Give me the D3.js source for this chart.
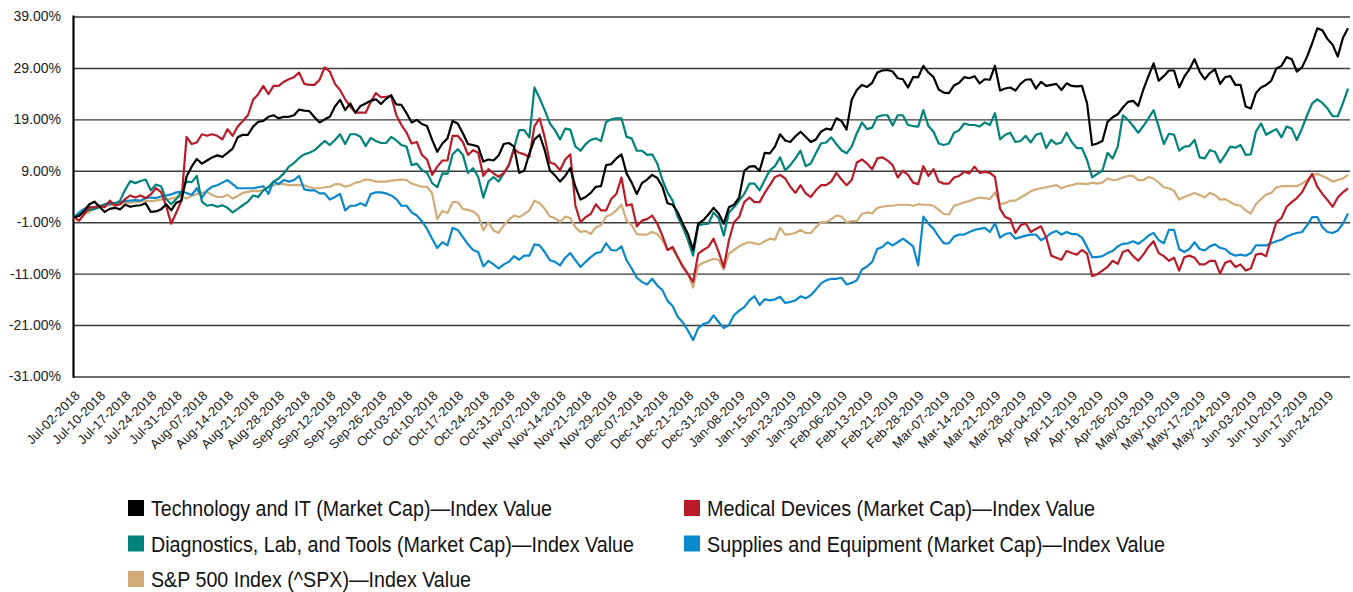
<!DOCTYPE html>
<html><head><meta charset="utf-8">
<script src="https://cdn.jsdelivr.net/npm/d3@7"></script>
<style>body{margin:0;background:#fff}svg{display:block}</style>
</head><body>
<script>
const tickLabels = ["Jul-02-2018","Jul-10-2018","Jul-17-2018","Jul-24-2018","Jul-31-2018","Aug-07-2018","Aug-14-2018","Aug-21-2018","Aug-28-2018","Sep-05-2018","Sep-12-2018","Sep-19-2018","Sep-26-2018","Oct-03-2018","Oct-10-2018","Oct-17-2018","Oct-24-2018","Oct-31-2018","Nov-07-2018","Nov-14-2018","Nov-21-2018","Nov-29-2018","Dec-07-2018","Dec-14-2018","Dec-21-2018","Dec-31-2018","Jan-08-2019","Jan-15-2019","Jan-23-2019","Jan-30-2019","Feb-06-2019","Feb-13-2019","Feb-21-2019","Feb-28-2019","Mar-07-2019","Mar-14-2019","Mar-21-2019","Mar-28-2019","Apr-04-2019","Apr-11-2019","Apr-18-2019","Apr-26-2019","May-03-2019","May-10-2019","May-17-2019","May-24-2019","Jun-03-2019","Jun-10-2019","Jun-17-2019","Jun-24-2019"];

const yTickValues = [-31, -21, -11, -1, 9, 19, 29, 39];

const techValues = [0.0,0.2,1.2,2.5,3.0,2.0,1.0,1.6,1.8,1.5,2.4,2.0,2.2,2.3,2.7,1.0,1.1,1.5,2.5,1.3,
2.8,3.2,7.9,9.8,11.3,10.4,11.0,11.6,12.0,11.7,12.5,13.3,15.5,16.0,16.0,17.6,18.5,18.7,19.5,19.8,
19.2,19.5,19.5,19.8,20.9,20.7,20.6,19.4,18.4,19.0,19.5,21.5,22.8,20.8,22.1,20.3,21.6,22.1,22.6,22.9,
22.0,23.0,23.7,21.9,21.8,20.2,18.4,18.9,18.1,17.7,15.0,12.7,14.3,15.3,18.7,18.2,16.3,14.2,14.0,13.7,
10.8,11.2,11.0,12.0,14.2,14.4,13.7,8.6,9.0,12.4,15.1,16.0,13.0,9.1,8.1,6.9,8.0,9.5,5.9,3.4,
3.9,4.7,5.9,6.0,10.1,10.3,11.4,12.2,8.5,6.7,4.5,6.6,7.3,8.2,7.6,5.9,2.7,2.4,0.9,-1.3,
-3.3,-6.4,-1.3,-0.6,0.5,1.8,0.7,-1.3,1.9,2.4,3.8,9.0,9.8,9.9,9.0,12.5,12.4,13.7,16.1,14.9,
14.6,15.7,16.6,15.6,14.6,15.1,16.6,17.2,17.0,19.2,18.7,17.0,22.8,24.7,25.7,25.3,26.1,28.1,28.5,28.6,
28.3,27.0,26.8,25.2,27.2,27.2,29.4,28.1,27.2,24.8,24.2,24.1,25.6,26.1,27.2,27.0,27.4,26.0,26.8,26.7,
29.4,24.6,25.0,25.2,24.6,25.9,26.7,26.8,25.0,26.3,25.5,25.7,25.9,24.7,26.0,25.5,25.4,25.5,22.1,14.0,
14.3,14.8,18.5,19.4,20.0,21.3,22.4,22.6,21.6,24.8,27.4,29.9,26.5,27.4,28.5,28.5,25.2,27.3,28.7,30.7,
28.3,26.8,28.0,28.7,25.9,27.2,27.4,25.7,25.7,21.5,21.1,24.1,25.2,25.7,26.5,28.9,29.4,31.1,30.7,28.3,
29.1,31.2,33.8,36.7,36.3,34.6,33.5,31.2,34.8,36.7];

const medValues = [0.0,-0.7,0.6,1.9,1.9,2.2,1.9,3.2,2.2,2.5,3.5,4.2,3.8,4.2,3.7,4.4,5.6,4.9,2.2,-1.3,
0.9,3.2,15.6,14.2,14.5,16.1,15.8,16.1,15.8,15.1,17.1,15.8,17.6,18.7,19.8,22.8,23.9,25.5,23.9,25.5,
25.5,26.3,26.8,27.2,28.1,25.9,25.7,25.7,26.7,29.1,28.3,25.9,24.7,22.9,21.5,20.3,20.3,20.3,22.4,24.1,
23.3,23.4,23.5,19.8,17.9,16.4,14.3,14.6,12.1,11.2,8.2,9.8,11.0,11.0,15.8,15.8,14.6,12.1,13.0,12.5,
8.0,9.3,8.5,7.8,8.6,10.1,13.2,12.5,12.2,11.7,17.7,19.2,15.5,10.6,10.3,9.1,11.2,12.2,2.2,-1.0,
0.0,0.6,2.5,1.3,1.3,3.5,4.5,7.7,2.2,2.5,-1.8,-0.7,-0.4,0.3,-1.3,-3.6,-6.4,-5.8,-7.8,-9.7,
-11.1,-12.6,-7.1,-6.4,-5.8,-4.2,-6.8,-9.8,-4.5,-1.0,0.0,2.9,3.8,2.9,2.9,4.7,6.2,7.8,8.2,7.5,
5.9,4.7,6.2,4.6,3.9,5.2,6.2,6.2,6.9,8.6,7.3,6.2,7.2,10.6,11.2,10.4,9.3,11.4,11.6,11.0,
10.1,7.7,9.0,8.2,6.7,6.4,9.9,8.0,9.3,6.9,6.5,6.5,7.7,8.0,8.8,8.5,9.8,8.6,8.8,8.6,
7.8,1.6,0.0,-0.4,-3.1,-1.6,-1.2,-2.9,-2.3,-1.8,-3.9,-7.5,-7.9,-8.3,-6.6,-7.0,-7.3,-6.4,-7.1,-11.5,
-11.1,-10.4,-9.7,-8.5,-9.1,-6.8,-6.4,-7.6,-8.5,-7.3,-5.8,-4.7,-7.0,-7.6,-8.5,-7.9,-10.4,-7.8,-7.5,-7.9,
-9.2,-9.2,-8.5,-8.5,-11.0,-8.9,-8.5,-9.7,-9.2,-10.4,-10.0,-7.3,-7.1,-7.6,-4.2,-1.0,-0.2,2.0,2.9,3.7,
4.8,6.7,8.4,5.9,4.5,3.3,2.0,3.8,4.8,5.6];

const diagValues = [0.0,0.5,1.0,1.4,1.6,1.9,2.5,2.8,2.6,3.2,5.3,7.0,6.6,7.0,7.3,5.2,6.3,6.0,3.5,2.5,
3.5,4.9,6.9,6.8,8.0,3.0,2.2,2.4,2.0,2.3,1.8,0.9,1.6,2.3,3.0,4.2,3.9,5.2,5.8,6.9,
7.5,8.5,9.8,10.5,11.5,12.2,12.5,13.0,13.9,14.8,14.0,15.0,16.1,14.2,16.1,16.1,15.6,13.8,15.4,14.8,
14.4,14.4,15.6,14.9,14.0,13.7,10.1,10.4,9.1,8.6,6.6,5.8,8.5,8.4,12.2,13.2,12.1,8.6,9.5,7.8,
3.8,6.9,7.8,6.9,8.5,10.1,13.4,16.9,16.9,15.5,25.2,23.1,20.8,18.2,16.9,15.1,17.2,17.0,13.7,12.9,
14.2,15.0,15.3,14.8,18.5,19.0,19.2,19.2,15.6,15.3,12.9,12.9,12.1,12.2,10.4,7.2,4.8,3.2,0.0,-2.0,
-4.5,-7.5,-1.6,-1.4,-1.3,0.9,-0.2,-3.6,0.9,1.9,3.2,4.5,6.5,6.5,5.2,7.2,9.1,9.9,11.6,9.1,
10.1,11.4,12.9,9.9,10.4,12.4,14.3,14.5,15.5,14.2,13.0,12.4,13.7,16.3,18.4,17.1,17.4,19.5,19.8,19.8,
17.8,19.8,19.8,17.9,17.7,17.6,20.8,17.7,16.6,14.3,14.0,14.3,16.4,16.9,18.2,17.9,17.9,17.6,18.4,17.9,
20.2,15.1,16.0,16.4,14.6,14.8,15.8,14.5,16.0,16.3,13.4,15.0,14.2,14.5,16.4,14.6,13.4,13.4,11.1,7.7,
8.4,9.0,12.5,11.4,13.7,19.8,18.9,17.7,16.4,17.7,19.2,20.8,17.6,14.2,16.2,16.0,12.9,13.7,13.8,15.0,
11.6,11.4,13.0,12.7,10.6,12.1,13.7,13.5,14.0,12.1,12.2,16.6,18.2,16.0,16.6,17.1,15.5,17.6,17.2,15.0,
17.2,19.8,22.1,22.9,22.2,21.1,19.6,19.6,22.1,25.0];

const suppValues = [0.0,0.9,1.6,2.0,1.9,2.2,2.4,2.5,2.7,2.9,3.1,3.2,3.3,3.2,3.7,3.8,3.7,4.0,4.2,4.4,
4.8,4.9,4.7,4.3,5.6,3.8,5.2,5.9,6.2,6.7,7.2,6.4,5.6,5.6,5.6,5.6,5.8,6.0,4.5,6.9,
6.4,7.2,6.9,7.2,8.0,5.4,5.2,5.2,4.6,4.6,3.4,3.9,4.5,1.3,2.2,2.2,2.7,2.2,4.5,4.8,
4.8,4.6,4.2,3.5,2.2,2.2,0.9,0.3,-0.8,-2.3,-4.2,-6.0,-4.9,-5.5,-2.1,-2.5,-3.9,-5.3,-6.4,-6.8,
-9.6,-8.5,-9.2,-10.0,-9.2,-8.7,-7.6,-8.3,-7.5,-7.5,-5.3,-5.5,-6.8,-8.4,-8.7,-9.4,-7.9,-7.0,-8.4,-9.7,
-8.7,-7.8,-7.0,-6.8,-5.1,-6.4,-6.5,-5.7,-8.4,-10.0,-11.8,-12.6,-13.1,-12.0,-13.3,-14.2,-16.3,-17.3,-19.4,-20.5,
-22.1,-23.9,-21.6,-20.8,-20.5,-19.1,-20.4,-21.6,-21.0,-19.1,-18.2,-17.5,-16.2,-15.4,-17.1,-16.0,-16.2,-16.0,-15.5,-16.7,
-16.5,-16.2,-15.4,-15.8,-15.2,-14.1,-12.9,-12.3,-12.0,-12.0,-11.8,-13.1,-12.8,-12.3,-10.2,-9.6,-8.7,-6.2,-5.8,-4.9,
-5.5,-4.9,-4.2,-4.9,-5.7,-9.4,0.1,-1.3,-2.3,-3.8,-5.1,-5.1,-3.8,-3.4,-3.4,-2.9,-2.5,-2.3,-2.1,-2.9,
-1.2,-4.0,-3.3,-3.1,-4.2,-3.9,-3.6,-3.4,-3.4,-4.5,-3.9,-3.1,-2.7,-3.4,-2.9,-3.3,-3.3,-4.0,-5.8,-7.8,
-7.8,-7.6,-7.0,-6.6,-5.7,-5.2,-5.1,-4.7,-5.2,-4.5,-3.6,-3.1,-4.5,-5.1,-2.5,-2.5,-6.2,-6.8,-6.2,-4.9,
-6.2,-6.5,-5.7,-5.3,-6.0,-6.2,-7.1,-7.5,-7.3,-7.5,-7.0,-5.5,-5.5,-5.5,-5.1,-4.7,-4.4,-3.8,-3.4,-3.1,
-2.9,-1.6,0.0,0.0,-2.0,-2.9,-3.1,-2.6,-1.3,0.7];

const spxValues = [-0.2,-0.8,0.6,1.0,1.6,1.9,2.2,2.3,2.4,2.5,2.7,2.8,2.9,3.0,3.2,3.1,3.2,3.4,3.5,3.6,
3.8,4.0,3.6,4.1,4.5,4.7,4.9,4.3,3.9,3.9,4.3,3.6,4.1,4.7,4.9,5.1,5.1,5.2,5.9,6.2,
6.5,6.4,6.2,6.2,6.2,6.2,5.8,5.6,5.6,5.8,5.9,6.4,6.4,5.9,6.2,6.7,6.9,7.3,7.2,6.9,
6.9,6.9,7.1,7.2,7.3,7.2,6.5,6.2,5.9,5.9,4.6,-0.4,1.2,0.8,2.9,2.9,1.6,1.4,1.1,0.3,
-2.6,-1.0,-2.6,-3.1,-1.6,-0.5,0.3,0.0,0.6,1.3,3.2,2.7,1.6,0.1,-0.2,-1.0,0.1,-0.2,-2.0,-2.9,
-2.7,-3.3,-2.0,-1.6,0.1,0.5,1.3,2.4,-0.7,-1.6,-3.3,-3.4,-3.4,-2.9,-3.3,-4.5,-6.4,-6.2,-7.8,-9.4,
-11.0,-13.7,-9.4,-8.9,-8.5,-8.1,-8.3,-10.2,-7.1,-6.4,-5.7,-5.2,-4.9,-5.1,-5.3,-4.7,-4.2,-4.4,-2.1,-3.4,
-3.3,-3.1,-2.5,-3.1,-3.1,-2.0,-1.0,-1.0,-0.4,0.3,0.1,-1.0,-0.8,-0.8,0.6,0.9,0.7,1.8,2.0,2.2,
2.2,2.4,2.4,2.4,2.2,2.5,2.4,2.4,2.2,1.4,0.6,0.5,2.2,2.5,2.9,3.1,3.5,3.8,3.7,3.5,
4.8,2.5,2.7,3.2,3.2,3.8,4.4,5.0,5.4,5.6,5.8,6.0,6.2,5.6,6.0,6.2,6.5,6.5,6.4,6.7,
6.5,6.7,7.5,7.2,7.3,7.7,8.0,8.0,7.2,7.2,7.8,7.5,6.7,5.8,5.6,5.1,3.4,3.9,4.3,4.7,
4.3,3.8,4.7,4.3,3.4,3.5,2.9,2.4,2.2,1.3,0.7,2.5,3.5,4.4,4.7,5.8,6.0,6.0,6.0,6.0,
6.5,7.2,8.2,8.4,8.0,7.5,6.9,7.2,7.5,8.2];

const seriesNames = ["Technology and IT (Market Cap)\u2014Index Value","Medical Devices (Market Cap)\u2014Index Value","Diagnostics, Lab, and Tools (Market Cap)\u2014Index Value","Supplies and Equipment (Market Cap)\u2014Index Value","S&P 500 Index (^SPX)\u2014Index Value"];
const seriesColors = ["#000000","#BA1B28","#00837A","#0A88CE","#D2AC78"];

const series = [
  {name: seriesNames[0], color: seriesColors[0], values: techValues},
  {name: seriesNames[1], color: seriesColors[1], values: medValues},
  {name: seriesNames[2], color: seriesColors[2], values: diagValues},
  {name: seriesNames[3], color: seriesColors[3], values: suppValues},
  {name: seriesNames[4], color: seriesColors[4], values: spxValues}
];

const W = 1353, H = 592;
const svg = d3.select("body").append("svg").attr("width", W).attr("height", H)
  .style("font-family", "'Liberation Sans', Arial, Helvetica, sans-serif");

const x = d3.scaleLinear().domain([0, techValues.length - 1]).range([74, 1348]);
const y = d3.scaleLinear().domain([-31, 39]).range([376.5, 16.5]);

// Y axis with gridlines
const yAxis = svg.append("g").attr("transform", "translate(73,0)")
  .call(d3.axisLeft(y).tickValues(yTickValues).tickSize(-(1350 - 73)).tickPadding(12)
    .tickFormat(d => d.toFixed(2) + "%"));
yAxis.select(".domain").remove();
yAxis.selectAll(".tick line").attr("stroke", "#3a3a3a").attr("stroke-width", 1.4);
yAxis.selectAll(".tick text").attr("fill", "#222").style("font-size", "14px");

// X axis labels
const xAxis = svg.append("g").attr("transform", "translate(0,376.5)")
  .call(d3.axisBottom(x).tickValues(d3.range(0, techValues.length, 5)).tickSize(0)
    .tickFormat(i => tickLabels[i / 5]));
xAxis.select(".domain").remove();
xAxis.selectAll(".tick text")
  .attr("x", 0).attr("y", 0).attr("dy", 0)
  .attr("transform", "translate(6,20) rotate(-45)")
  .attr("text-anchor", "end")
  .attr("fill", "#222").style("font-size", "13px");

// left axis line
svg.append("line").attr("x1", 73.5).attr("x2", 73.5).attr("y1", 15.5).attr("y2", 377.5)
  .attr("stroke", "#000").attr("stroke-width", 2.2);

// Lines
const line = d3.line().x((d, i) => x(i)).y(d => y(d));
const drawOrder = [4, 3, 2, 1, 0];
svg.append("g").selectAll("path").data(drawOrder.map(k => series[k])).join("path")
  .attr("d", d => line(d.values))
  .attr("fill", "none")
  .attr("stroke", d => d.color)
  .attr("stroke-width", 2.2)
  .attr("stroke-linejoin", "round");

// Legend
const legendPos = [
  {sx: 128, ty: 516, w: 401},
  {sx: 684, ty: 516, w: 388},
  {sx: 128, ty: 551.5, w: 483},
  {sx: 684, ty: 551.5, w: 458},
  {sx: 128, ty: 587, w: 320}
];
const lg = svg.append("g").selectAll("g").data(series).join("g");
lg.append("rect")
  .attr("x", (d, i) => legendPos[i].sx)
  .attr("y", (d, i) => legendPos[i].ty - 16)
  .attr("width", 16).attr("height", 16)
  .attr("fill", d => d.color);
lg.append("text")
  .attr("x", (d, i) => legendPos[i].sx + 23)
  .attr("y", (d, i) => legendPos[i].ty)
  .attr("textLength", (d, i) => legendPos[i].w)
  .attr("lengthAdjust", "spacingAndGlyphs")
  .style("font-size", "22.5px")
  .style("font-family", "'Liberation Sans Narrow', 'Liberation Sans', Arial, sans-serif")
  .attr("fill", "#111")
  .text(d => d.name);
</script>
</body></html>
